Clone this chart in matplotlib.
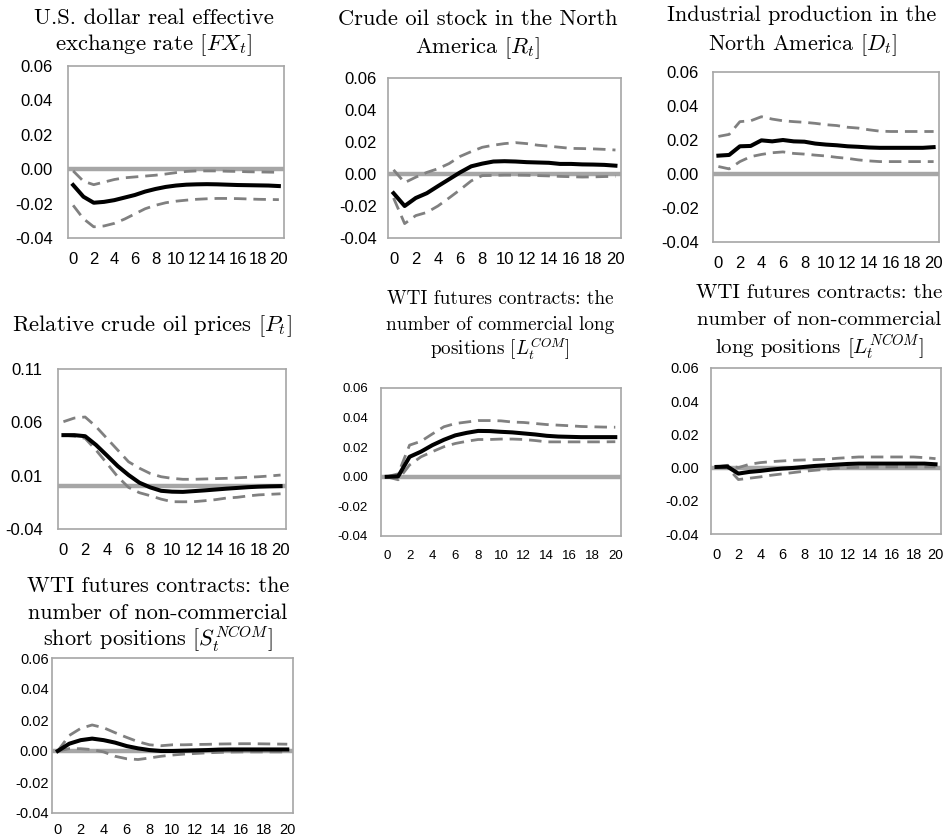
import matplotlib
matplotlib.use("Agg")
import matplotlib.pyplot as plt

plt.rcParams['mathtext.fontset'] = 'cm'

W, H = 946, 839

horizon = list(range(21))
xtick_vals = list(range(0, 21, 2))
xtick_labels = [str(v) for v in xtick_vals]

yt_std = [-0.04, -0.02, 0.00, 0.02, 0.04, 0.06]
yt_std_labels = ["-0.04", "-0.02", "0.00", "0.02", "0.04", "0.06"]
yt_p = [-0.04, 0.01, 0.06, 0.11]
yt_p_labels = ["-0.04", "0.01", "0.06", "0.11"]

# FX_t
fx_irf = [-0.0092, -0.016, -0.0195, -0.019, -0.018, -0.0165, -0.015, -0.013, -0.0115, -0.0103, -0.0095,
          -0.009, -0.0088, -0.0087, -0.0088, -0.009, -0.0092, -0.0093, -0.0094, -0.0095, -0.0098]
fx_up = [-0.001, -0.007, -0.009, -0.0075, -0.006, -0.005, -0.0045, -0.004, -0.0035, -0.0028, -0.002,
         -0.0013, -0.001, -0.001, -0.001, -0.0012, -0.0013, -0.0015, -0.0016, -0.0017, -0.0018]
fx_lo = [-0.021, -0.0288, -0.0335, -0.033, -0.0315, -0.029, -0.026, -0.023, -0.021, -0.0195, -0.0186,
         -0.018, -0.0175, -0.0172, -0.017, -0.017, -0.0171, -0.0173, -0.0175, -0.0176, -0.0177]
# R_t
r_irf = [-0.012, -0.020, -0.015, -0.012, -0.0076, -0.0033, 0.001, 0.0048, 0.0065, 0.0078, 0.008,
         0.0078, 0.0074, 0.0072, 0.007, 0.0063, 0.0063, 0.006, 0.0059, 0.0057, 0.0052]
r_up = [0.0026, -0.0054, -0.002, 0.001, 0.0033, 0.0065, 0.011, 0.014, 0.0167, 0.018, 0.019,
        0.0196, 0.019, 0.018, 0.0174, 0.0167, 0.016, 0.0159, 0.0157, 0.0154, 0.015]
r_lo = [-0.015, -0.031, -0.026, -0.024, -0.020, -0.015, -0.0098, -0.0043, -0.001, -0.0009, -0.0007,
        -0.0007, -0.0008, -0.001, -0.0012, -0.0015, -0.0017, -0.0019, -0.0018, -0.0016, -0.0015]
# D_t
d_irf = [0.0108, 0.0112, 0.0163, 0.0165, 0.0198, 0.0192, 0.020, 0.0192, 0.019, 0.0179, 0.0173,
         0.0169, 0.0163, 0.016, 0.0156, 0.0154, 0.0154, 0.0154, 0.0154, 0.0154, 0.0158]
d_up = [0.0221, 0.0233, 0.0308, 0.0313, 0.0337, 0.0323, 0.0313, 0.0308, 0.0304, 0.0298, 0.029,
        0.0285, 0.0275, 0.027, 0.026, 0.0252, 0.025, 0.025, 0.025, 0.025, 0.025]
d_lo = [0.0044, 0.003, 0.0073, 0.0102, 0.0115, 0.0125, 0.013, 0.0121, 0.0117, 0.0111, 0.0106,
        0.0098, 0.0092, 0.0083, 0.0077, 0.0073, 0.0073, 0.0073, 0.0073, 0.0073, 0.0073]
# P_t
p_irf = [0.048, 0.048, 0.047, 0.0388, 0.029, 0.019, 0.0106, 0.0034, -0.001, -0.0042, -0.005,
         -0.0052, -0.0045, -0.0038, -0.003, -0.0022, -0.0015, -0.0008, -0.0003, 0.0, 0.0002]
p_up = [0.0606, 0.064, 0.065, 0.056, 0.045, 0.034, 0.023, 0.017, 0.012, 0.009, 0.0075,
        0.0066, 0.0066, 0.0069, 0.0072, 0.0075, 0.008, 0.0085, 0.009, 0.0097, 0.0106]
p_lo = [0.048, 0.047, 0.045, 0.034, 0.0216, 0.009, -0.001, -0.006, -0.0088, -0.012, -0.0144,
        -0.0145, -0.0144, -0.0135, -0.0125, -0.011, -0.0103, -0.009, -0.008, -0.0075, -0.007]
# L_t^COM
lc_irf = [0.0, 0.0003, 0.0135, 0.017, 0.0214, 0.025, 0.028, 0.0297, 0.031, 0.0309, 0.0304,
          0.030, 0.0293, 0.0286, 0.0277, 0.0272, 0.027, 0.0268, 0.0268, 0.0268, 0.0268]
lc_up = [0.0, 0.002, 0.0214, 0.024, 0.029, 0.0338, 0.036, 0.037, 0.038, 0.038, 0.0378,
         0.037, 0.0367, 0.036, 0.0353, 0.0349, 0.0345, 0.034, 0.0338, 0.0336, 0.0335]
lc_lo = [0.0, -0.002, 0.008, 0.0135, 0.017, 0.0203, 0.0225, 0.024, 0.0252, 0.0252, 0.0255,
         0.0255, 0.0252, 0.0245, 0.0236, 0.0236, 0.0236, 0.0236, 0.0236, 0.0236, 0.0237]
# L_t^NCOM
ln_irf = [0.0004, 0.0006, -0.0036, -0.0026, -0.002, -0.0012, -0.0006, -0.0002, 0.0004, 0.001, 0.0014,
          0.0018, 0.0022, 0.0024, 0.0024, 0.0024, 0.0024, 0.0024, 0.0024, 0.0024, 0.002]
ln_up = [0.0004, 0.0014, 0.0, 0.002, 0.003, 0.0036, 0.004, 0.0044, 0.0046, 0.0048, 0.005,
         0.0056, 0.006, 0.0064, 0.0064, 0.0064, 0.0064, 0.0064, 0.0064, 0.006, 0.0054]
ln_lo = [0.0004, 0.0, -0.0072, -0.0064, -0.0056, -0.0046, -0.0038, -0.003, -0.0022, -0.0016, -0.001,
         -0.0004, 0.0, 0.0002, 0.0003, 0.0004, 0.0004, 0.0004, 0.0004, 0.0004, 0.0004]
# S_t^NCOM
sn_irf = [0.0, 0.0047, 0.007, 0.008, 0.007, 0.0054, 0.0032, 0.0017, 0.0006, 0.0, 0.0,
          0.0002, 0.0004, 0.0006, 0.0009, 0.001, 0.001, 0.001, 0.001, 0.001, 0.001]
sn_up = [0.0, 0.010, 0.0146, 0.0168, 0.015, 0.0118, 0.0088, 0.006, 0.004, 0.0034, 0.004,
         0.004, 0.0042, 0.0043, 0.0045, 0.0046, 0.0047, 0.0047, 0.0046, 0.0045, 0.0044]
sn_lo = [0.0, 0.0015, 0.0015, 0.0009, -0.0006, -0.0034, -0.005, -0.0055, -0.0045, -0.0034, -0.0026,
         -0.002, -0.0016, -0.0012, -0.0009, -0.0007, -0.0006, -0.0006, -0.0006, -0.0006, -0.0006]

panels = [
    # (box left, top, right, bottom in px), series, ylim, yticks, labels, tick font size, x pad, y pad
    ((68, 66, 284, 238), (fx_irf, fx_up, fx_lo), (-0.04, 0.06), yt_std, yt_std_labels, 12, 10, 11),
    ((388, 78, 621, 238), (r_irf, r_up, r_lo), (-0.04, 0.06), yt_std, yt_std_labels, 12, 10, 8),
    ((713, 72, 939, 242), (d_irf, d_up, d_lo), (-0.04, 0.06), yt_std, yt_std_labels, 12, 10, 10),
    ((58, 369, 286, 529), (p_irf, p_up, p_lo), (-0.04, 0.11), yt_p, yt_p_labels, 12, 10, 11),
    ((381, 388, 621, 536), (lc_irf, lc_up, lc_lo), (-0.04, 0.06), yt_std, yt_std_labels, 9.5, 10, 9.5),
    ((711, 368, 941, 534), (ln_irf, ln_up, ln_lo), (-0.04, 0.06), yt_std, yt_std_labels, 10.5, 10, 8.5),
    ((52, 658, 293, 813), (sn_irf, sn_up, sn_lo), (-0.04, 0.06), yt_std, yt_std_labels, 10.5, 7, 2.5),
]

titles = [
    [("U.S. dollar real effective", 154, 24), (r"exchange rate $[FX_t]$", 154, 50)],
    [("Crude oil stock in the North", 478, 25), (r"America $[R_t]$", 478, 53)],
    [("Industrial production in the", 802, 21), (r"North America $[D_t]$", 802, 50)],
    [(r"Relative crude oil prices $[P_t]$", 152, 331)],
    [("WTI futures contracts: the", 500, 304), ("number of commercial long", 500, 330),
     (r"positions $[L_t^{COM}]$", 500, 355)],
    [("WTI futures contracts: the", 819, 298), ("number of non-commercial", 819, 325),
     (r"long positions $[L_t^{NCOM}]$", 819, 353)],
    [("WTI futures contracts: the", 158, 592), ("number of non-commercial", 158, 619),
     (r"short positions $[S_t^{NCOM}]$", 158, 646)],
]
title_sizes = [16.4, 16.2, 15.9, 16.3, 13.8, 15.0, 16.0]

SPINE = "#A6A6A6"
ZERO = "#A6A6A6"
BAND = "#808080"

fig = plt.figure(figsize=(W / 100, H / 100), dpi=100)

for (box, series, ylim, yt, ytl, fs, xpad, ypad) in panels:
    l, t, r, b = box
    ax = fig.add_axes([l / W, 1 - b / H, (r - l) / W, (b - t) / H])
    irf, up, lo = series
    ax.axhline(0, color=ZERO, lw=3.2, zorder=1)
    ax.plot(horizon, up, color=BAND, lw=2.0, linestyle=(0, (4.5, 2.5)), zorder=2)
    ax.plot(horizon, lo, color=BAND, lw=2.0, linestyle=(0, (4.5, 2.5)), zorder=2)
    ax.plot(horizon, irf, color="black", lw=2.9, zorder=3, solid_joinstyle="round")
    ax.set_xlim(-0.5, 20.5)
    ax.set_ylim(*ylim)
    ax.set_yticks(yt)
    ax.set_yticklabels(ytl, fontfamily="Liberation Sans", fontsize=fs)
    ax.set_xticks(xtick_vals)
    ax.set_xticklabels(xtick_labels, fontfamily="Liberation Sans", fontsize=fs)
    ax.tick_params(axis="both", length=0)
    ax.tick_params(axis="y", pad=ypad)
    ax.tick_params(axis="x", pad=xpad)
    for s in ax.spines.values():
        s.set_color(SPINE)
        s.set_linewidth(1.2)

for lines, fsz in zip(titles, title_sizes):
    for txt, x, y in lines:
        fig.text(x / W, 1 - y / H, txt, ha="center", va="baseline",
                 fontfamily="cmr10", fontsize=fsz)

fig.savefig("out.png", dpi=100)
